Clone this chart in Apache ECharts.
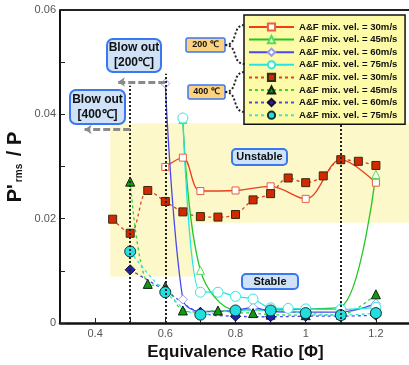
<!DOCTYPE html>
<html><head><meta charset="utf-8">
<script src="https://cdn.jsdelivr.net/npm/echarts@6/dist/echarts.min.js"></script>
<style>html,body{margin:0;padding:0;background:#fff}#c{width:409px;height:365px}</style>
</head><body><div id="c"></div>
<script>
// ---- data ----
const legendNames = ["A&F mix. vel. = 30m/s","A&F mix. vel. = 45m/s","A&F mix. vel. = 60m/s","A&F mix. vel. = 75m/s"];
const phi200_30 = [0.6,0.65,0.7,0.8,0.9,1.0,1.1,1.2];
const val200_30 = [0.0299,0.0317,0.0253,0.0254,0.0262,0.0238,0.0313,0.0269];
const phi200_45 = [0.65,0.7,0.8,0.9,1.0,1.1,1.2];
const val200_45 = [0.0390,0.0101,0.0025,0.0025,0.0027,0.0031,0.0285];
const phi200_60 = [0.6,0.65,0.7,0.8,0.85,0.9,1.0,1.1,1.2];
const val200_60 = [0.0459,0.0045,0.0022,0.0024,0.0030,0.0022,0.0021,0.0021,0.0037];
const phi200_75 = [0.65,0.7,0.75,0.8,0.85,0.9,0.95,1.0,1.1,1.2];
const val200_75 = [0.0393,0.0059,0.0059,0.0051,0.0046,0.0029,0.0028,0.0027,0.0026,0.0030];
const phi400_30 = [0.45,0.5,0.55,0.6,0.65,0.7,0.75,0.8,0.85,0.9,0.95,1.0,1.05,1.1,1.15,1.2];
const val400_30 = [0.0199,0.0172,0.0254,0.0233,0.0213,0.0204,0.0203,0.0208,0.0236,0.0248,0.0278,0.0269,0.0282,0.0313,0.0310,0.0302];
const phi400_45 = [0.5,0.55,0.6,0.65,0.7,0.75,0.8,0.85,0.9,1.0,1.1,1.2];
const val400_45 = [0.0271,0.0075,0.0070,0.0024,0.0021,0.0024,0.0020,0.0019,0.0016,0.0015,0.0016,0.0055];
const phi400_60 = [0.5,0.6,0.7,0.8,0.9,1.0,1.1,1.2];
const val400_60 = [0.0102,0.0062,0.0020,0.0013,0.0012,0.0013,0.0013,0.0015];
const phi400_75 = [0.5,0.6,0.7,0.8,0.9,1.0,1.1,1.2];
const val400_75 = [0.0137,0.0059,0.0016,0.0024,0.0024,0.0019,0.0015,0.0019];
const xTickLabels = ["0.4","0.6","0.8","1","1.2"];
const yTickLabels = ["0","0.02","0.04","0.06"];
// annotation geometry in data units
const blowLines = [[0.5,0.0455],[0.6,0.0478],[1.1,0.0381]];
const arrows = [[0.6,0.465,0.0462],[0.5,0.37,0.0371]];
const zones = [[0.443,0.0383,0.68,0.0089],[0.68,0.0383,1.3,0.0192]];

const pair = (xs,ys)=>xs.map((x,i)=>[x,ys[i]]);
const FONT = '"Liberation Sans", Arial, sans-serif';

function mk(name, xs, ys, color, dashed, symbol, size, fill, border){
  return {
    type:'line', name:name, data:pair(xs,ys), smooth:0.35,
    symbol:symbol, symbolSize:size, showSymbol:true,
    lineStyle:{color:color, width:1.3, type: dashed?[3,3]:'solid'},
    itemStyle:{color:fill, borderColor:border, borderWidth:1},
    z:3
  };
}
const n2 = legendNames.map(s=>s+' ');
const series = [
  {type:'line', name:'ann', data:[], silent:true, z:1,
   markArea:{silent:true, itemStyle:{color:'#fcf8c9'},
     data: zones.map(z=>[{coord:[z[0],z[1]]},{coord:[z[2],z[3]]}])},
   markLine:{silent:true, symbol:['none','none'], label:{show:false},
     lineStyle:{color:'#222', type:[2,2], width:2},
     data: blowLines.map(b=>[{coord:[b[0],0]},{coord:[b[0],b[1]]}]).concat(
       arrows.map(a=>[{coord:[a[0],a[2]],symbol:'none'},{coord:[a[1],a[2]],symbol:'arrow',symbolSize:7,
         lineStyle:{color:'#8a8a8a',type:[7,3],width:3}}]))}
  },
  mk(legendNames[0],phi200_30,val200_30,'#e8401c',false,'rect',7,'#fff','#e8603c'),
  mk(legendNames[1],phi200_45,val200_45,'#22c822',false,'triangle',8,'#fff','#55dd55'),
  mk(legendNames[2],phi200_60,val200_60,'#4848f0',false,'diamond',9,'#fff','#9a9af0'),
  mk(legendNames[3],phi200_75,val200_75,'#22e6e6',false,'circle',10,'#fff','#33e6e6'),
  mk(n2[0],phi400_30,val400_30,'#e0401c',true,'rect',8,'#d42800','#3a2a10'),
  mk(n2[1],phi400_45,val400_45,'#33d633',true,'triangle',9,'#0f9a0f','#112211'),
  mk(n2[2],phi400_60,val400_60,'#4c4cf0',true,'diamond',10,'#2222b0','#111133'),
  mk(n2[3],phi400_75,val400_75,'#33e6e6',true,'circle',11,'#22dede','#113333')
];

function box(x,y,w,h,text,fill,font,r,bw){
  return {type:'group', children:[
    {type:'rect', shape:{x:x,y:y,width:w,height:h,r:r}, style:{fill:fill, stroke:'#3a78f0', lineWidth:bw}, z:10},
    {type:'text', x:x+w/2, y:y+h/2, style:{text:text, font:font, fill:'#111', align:'center', verticalAlign:'middle', lineHeight:15}, z:11}
  ]};
}
function curve(x1,y1,x2,y2){
  return {type:'bezierCurve', shape:{x1:x1,y1:y1,cpx1:x1+14,cpy1:y1,cpx2:x2-14,cpy2:y2,x2:x2,y2:y2},
    style:{stroke:'#222', lineWidth:2, lineDash:[2,2], fill:null}, z:10};
}

const chart = echarts.init(document.getElementById('c'));
chart.setOption({
  animation:false,
  grid:{left:60, top:10, width:351, height:313, containLabel:false, outerBoundsMode:'none'},
  xAxis:{type:'value', min:0.3, max:1.3, interval:0.1,
    name:'Equivalence Ratio [Φ]', nameLocation:'middle', nameGap:21,
    nameTextStyle:{fontFamily:FONT, fontWeight:'bold', fontSize:17, color:'#111'},
    axisLine:{lineStyle:{color:'#111', width:2.5}},
    axisTick:{inside:true, length:5, lineStyle:{color:'#222'},
      interval:(i,v)=>xTickLabels.indexOf(String(+(+v).toFixed(2)))>=0},
    axisLabel:{fontFamily:FONT, fontSize:11, color:'#555', margin:5,
      formatter:v=>{const s=String(+(+v).toFixed(2)); return xTickLabels.indexOf(s)>=0?s:'';}},
    splitLine:{show:false}},
  yAxis:{type:'value', min:0, max:0.06, interval:0.01,
    axisLine:{show:true, lineStyle:{color:'#111', width:2}},
    axisTick:{show:true, inside:true, length:5, lineStyle:{color:'#222'}},
    axisLabel:{fontFamily:FONT, fontSize:11, color:'#555', margin:4,
      formatter:v=>{const s=String(+(+v).toFixed(3)); return yTickLabels.indexOf(s)>=0?s:'';}},
    splitLine:{show:false}},
  legend:{orient:'vertical', left:244, top:15, padding:[7,5,4,4], itemGap:2.6, itemWidth:45, itemHeight:9,
    backgroundColor:'#fdfaa8', borderColor:'#111', borderWidth:1.5,
    data:legendNames.concat(n2),
    textStyle:{fontFamily:FONT, fontWeight:'bold', fontSize:9.6, color:'#111'}},
  series:series,
  graphic:[
    {type:'line', shape:{x1:60,y1:10,x2:409,y2:10}, style:{stroke:'#222', lineWidth:2}, z:5},
    box(107,39,54,33,'Blow out\n[200℃]','#cfe2f8','bold 12px '+FONT,6,2),
    box(70,90,55,34,'Blow out\n[400℃]','#cfe2f8','bold 12px '+FONT,6,2),
    box(232,149,55,16,'Unstable','#cfe2f8','bold 11px '+FONT,4,2),
    box(242,274,56,15,'Stable','#cfe2f8','bold 11px '+FONT,4,2),
    box(186,38,39,14,'200 ℃','#fdd27e','bold 9px '+FONT,2,1.5),
    box(188,85,37,14,'400 ℃','#fdd27e','bold 9px '+FONT,2,1.5),
    curve(225,45,245,25), curve(225,45,245,64),
    curve(225,92,245,72), curve(225,92,245,112),
    {type:'text', x:15, y:167, rotation:Math.PI/2,
      style:{text:"{a|P'}{b|rms}{a| / P}", align:'center', verticalAlign:'middle',
        rich:{a:{font:'bold 20px '+FONT, fill:'#111'}, b:{font:'bold 10px '+FONT, fill:'#111', padding:[8,2,0,2]}}}, z:10}
  ]
});
</script></body></html>
